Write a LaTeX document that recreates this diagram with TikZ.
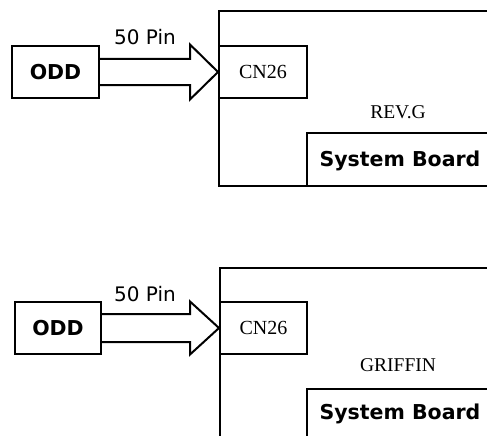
\documentclass[tikz,border=0pt]{standalone}
\usepackage{fontspec}
\setmainfont{Liberation Serif}
\newfontfamily\verd{DejaVu Sans}
\usetikzlibrary{calc}

\tikzset{
  wire/.style={line width=2pt, line join=miter},
  partbox/.style={draw, line width=2pt, shape=rectangle, minimum height=52pt, inner sep=0pt},
  boldlbl/.style={font=\verd\bfseries\fontsize{20.5}{24}\selectfont},
  pinlbl/.style={font=\verd\fontsize{20}{24}\selectfont, inner sep=0pt},
  revlbl/.style={font=\fontsize{19.5}{23}\selectfont, inner sep=0pt}
}

\begin{document}
\begin{tikzpicture}[x=1pt, y=-1pt]
        \useasboundingbox[fill=white] (0,0) rectangle (487,436);

        % REV.G
        \node[partbox, boldlbl, minimum width=87pt] (odd1) at (55.5, 72) {ODD};
        \node[partbox, font=\fontsize{20}{24}\selectfont, minimum width=88pt] (cn1) at (263, 72) {CN26};
        \node[pinlbl] (pin1) at (145, 37) {50 Pin};
        \node[revlbl] (rev1) at (398, 112) {REV.G};
        \node[boldlbl, inner sep=0pt] (sb1) at (400, 161) {System Board};
        \coordinate (b1a) at (487, 11);
        \coordinate (b1b) at (219, 11);
        \coordinate (b1c) at (219, 186);
        \coordinate (b1d) at (487, 186);
        \draw[wire] (b1a) -- (b1b) -- (b1c) -- (b1d);
        \draw[wire] (487, 133) -- (307, 133) -- (307, 186);
        \draw[wire] ($(odd1.east)+(0,-13)$) -- ($(cn1.west)+(-28,-13)$) -- ($(cn1.west)+(-28,-27.5)$)
            -- (cn1.west) -- ($(cn1.west)+(-28,27.5)$) -- ($(cn1.west)+(-28,13)$) -- ($(odd1.east)+(0,13)$);

        % GRIFFIN
        \node[partbox, boldlbl, minimum width=86pt] (odd2) at (58, 328) {ODD};
        \node[partbox, font=\fontsize{20}{24}\selectfont, minimum width=87pt] (cn2) at (263.5, 328) {CN26};
        \node[pinlbl] (pin2) at (145, 294) {50 Pin};
        \node[revlbl] (rev2) at (398, 365) {GRIFFIN};
        \node[boldlbl, inner sep=0pt] (sb2) at (400, 414) {System Board};
        \coordinate (b2a) at (487, 268);
        \coordinate (b2b) at (220, 268);
        \coordinate (b2c) at (220, 440);
        \draw[wire] (b2a) -- (b2b) -- (b2c);
        \draw[wire] (487, 389) -- (307, 389) -- (307, 440);
        \draw[wire] ($(odd2.east)+(0,-14)$) -- ($(cn2.west)+(-29,-14)$) -- ($(cn2.west)+(-29,-26.5)$)
            -- (cn2.west) -- ($(cn2.west)+(-29,26.5)$) -- ($(cn2.west)+(-29,14)$) -- ($(odd2.east)+(0,14)$);
    \end{tikzpicture}
\end{document}
